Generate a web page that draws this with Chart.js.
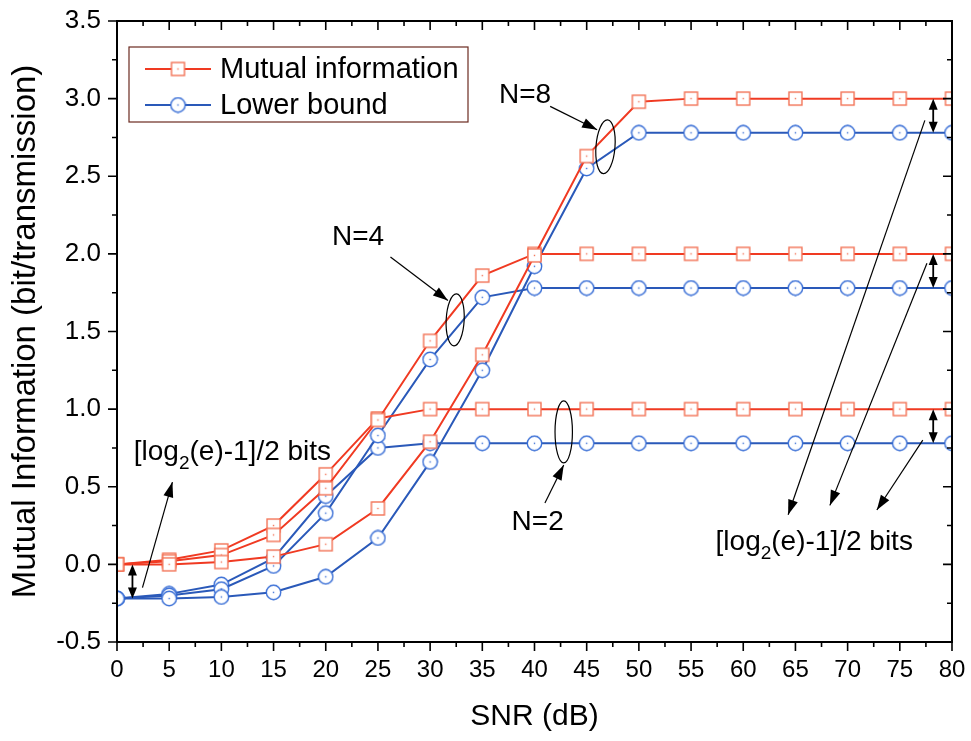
<!DOCTYPE html>
<html>
<head>
<meta charset="utf-8">
<script src="https://cdn.jsdelivr.net/npm/chart.js@4.4.1/dist/chart.umd.min.js"></script>
<style>
html, body { margin: 0; padding: 0; background: #fff; }
</style>
</head>
<body>
<canvas id="mi-chart" width="971" height="741"></canvas>
<script>
// SNR grid (dB)
const snr = [0, 5, 10, 15, 20, 25, 30, 35, 40, 45, 50, 55, 60, 65, 70, 75, 80];

// Mutual information (bit/transmission)
const miN2 = [0.00, 0.03, 0.09, 0.25, 0.58, 0.94, 1.00, 1.00, 1.00, 1.00, 1.00, 1.00, 1.00, 1.00, 1.00, 1.00, 1.00];
const miN4 = [0.00, 0.02, 0.06, 0.19, 0.49, 0.93, 1.44, 1.86, 2.00, 2.00, 2.00, 2.00, 2.00, 2.00, 2.00, 2.00, 2.00];
const miN8 = [0.00, 0.00, 0.015, 0.05, 0.13, 0.36, 0.79, 1.35, 1.99, 2.63, 2.98, 3.00, 3.00, 3.00, 3.00, 3.00, 3.00];

// Lower bound
const lbN2 = [-0.22, -0.19, -0.13, 0.04, 0.44, 0.75, 0.78, 0.78, 0.78, 0.78, 0.78, 0.78, 0.78, 0.78, 0.78, 0.78, 0.78];
const lbN4 = [-0.22, -0.20, -0.16, -0.01, 0.33, 0.83, 1.32, 1.72, 1.78, 1.78, 1.78, 1.78, 1.78, 1.78, 1.78, 1.78, 1.78];
const lbN8 = [-0.22, -0.22, -0.21, -0.18, -0.08, 0.17, 0.66, 1.25, 1.92, 2.55, 2.78, 2.78, 2.78, 2.78, 2.78, 2.78, 2.78];

// axis ticks
const xTicks = [0, 5, 10, 15, 20, 25, 30, 35, 40, 45, 50, 55, 60, 65, 70, 75, 80];
const yTicks = [-0.5, 0.0, 0.5, 1.0, 1.5, 2.0, 2.5, 3.0, 3.5];

const legendLabels = ['Mutual information', 'Lower bound'];

const RED = '#f03a22';
const RED_MK = '#f37356';
const BLUE = '#2a59b9';
const BLUE_MK = '#3a6fd6';

// marker images: hollow square / circle with a small centre dot
function makeMarker(kind, color) {
    const c = document.createElement('canvas');
    c.width = 17; c.height = 17;
    const g = c.getContext('2d');
    g.fillStyle = '#fff';
    g.strokeStyle = color;
    g.lineWidth = 1.4;
    if (kind === 'square') {
        g.fillRect(2, 2, 13, 13);
        g.strokeRect(2, 2, 13, 13);
    } else {
        g.beginPath();
        g.arc(8.5, 8.5, 7.2, 0, Math.PI * 2);
        g.fill();
        g.stroke();
    }
    g.fillStyle = color;
    g.fillRect(7.8, 7.8, 1.4, 1.4);
    return c;
}
const squareMk = makeMarker('square', RED_MK);
const circleMk = makeMarker('circle', BLUE_MK);

function toPoints(vals) {
    return vals.map((v, i) => ({ x: snr[i], y: v }));
}

function series(vals, color, marker) {
    return {
        data: toPoints(vals),
        borderColor: color,
        backgroundColor: color,
        borderWidth: 2,
        pointStyle: marker,
        pointRadius: 8,
        pointHoverRadius: 8,
        tension: 0,
        clip: 1
    };
}

function arrowHead(ctx, x0, y0, x1, y1, len, half) {
    const ang = Math.atan2(y1 - y0, x1 - x0);
    ctx.beginPath();
    ctx.moveTo(x1, y1);
    ctx.lineTo(x1 - len * Math.cos(ang) + half * Math.sin(ang), y1 - len * Math.sin(ang) - half * Math.cos(ang));
    ctx.lineTo(x1 - len * Math.cos(ang) - half * Math.sin(ang), y1 - len * Math.sin(ang) + half * Math.cos(ang));
    ctx.closePath();
    ctx.fill();
}

function arrow(ctx, x0, y0, x1, y1) {
    ctx.beginPath();
    ctx.moveTo(x0, y0);
    ctx.lineTo(x1, y1);
    ctx.stroke();
    arrowHead(ctx, x0, y0, x1, y1, 15, 5);
}

function dblArrow(ctx, x, y0, y1) {
    ctx.beginPath();
    ctx.moveTo(x, y0 + 4);
    ctx.lineTo(x, y1 - 4);
    ctx.stroke();
    arrowHead(ctx, x, y1, x, y0, 11, 4.5);
    arrowHead(ctx, x, y0, x, y1, 11, 4.5);
}

function logLabel(ctx, cx, cy) {
    const big = '28px "Liberation Sans", Arial, sans-serif';
    const small = '19px "Liberation Sans", Arial, sans-serif';
    const parts = ['[log', '2', '(e)-1]/2 bits'];
    ctx.font = big;
    const w0 = ctx.measureText(parts[0]).width;
    const w2 = ctx.measureText(parts[2]).width;
    ctx.font = small;
    const w1 = ctx.measureText(parts[1]).width;
    let x = cx - (w0 + w1 + w2) / 2;
    ctx.textAlign = 'left';
    ctx.textBaseline = 'middle';
    ctx.font = big;
    ctx.fillText(parts[0], x, cy);
    x += w0;
    ctx.font = small;
    ctx.fillText(parts[1], x, cy + 11);
    x += w1;
    ctx.font = big;
    ctx.fillText(parts[2], x, cy);
}

const framePlugin = {
    id: 'frame',
    afterDraw(chart) {
        const { ctx, chartArea: a, scales: { x, y } } = chart;
        const X = v => x.getPixelForValue(v);
        const Y = v => y.getPixelForValue(v);
        ctx.save();
        ctx.strokeStyle = '#000';
        ctx.fillStyle = '#000';
        ctx.lineWidth = 2;
        ctx.strokeRect(a.left, a.top, a.right - a.left, a.bottom - a.top);

        // major + minor ticks on all four sides
        ctx.lineWidth = 1.6;
        ctx.beginPath();
        for (let v = 0; v <= 80; v += 2.5) {
            const px = X(v);
            const len = v % 5 === 0 ? 9 : 5;
            ctx.moveTo(px, a.bottom); ctx.lineTo(px, a.bottom + len);
            ctx.moveTo(px, a.top); ctx.lineTo(px, a.top + len);
        }
        for (let i = 0; i <= 16; i++) {
            const v = -0.5 + i * 0.25;
            const py = Y(v);
            const len = i % 2 === 0 ? 9 : 5;
            ctx.moveTo(a.left, py); ctx.lineTo(a.left - len, py);
            ctx.moveTo(a.right, py); ctx.lineTo(a.right - len, py);
        }
        ctx.stroke();

        // legend box
        const lx = a.left + 12, ly = a.top + 26;
        ctx.strokeStyle = '#6b2a20';
        ctx.lineWidth = 1.2;
        ctx.strokeRect(lx, ly, 339, 75);
        const rows = [[RED, squareMk], [BLUE, circleMk]];
        ctx.font = '29px "Liberation Sans", Arial, sans-serif';
        ctx.textAlign = 'left';
        ctx.textBaseline = 'middle';
        rows.forEach((r, i) => {
            const ry = ly + 22 + i * 36;
            ctx.strokeStyle = r[0];
            ctx.lineWidth = 2;
            ctx.beginPath();
            ctx.moveTo(lx + 16, ry); ctx.lineTo(lx + 82, ry);
            ctx.stroke();
            ctx.drawImage(r[1], lx + 49 - 8.5, ry - 8.5);
            ctx.fillStyle = '#000';
            ctx.fillText(legendLabels[i], lx + 91, ry + 1);
        });

        // annotations
        ctx.strokeStyle = '#000';
        ctx.fillStyle = '#000';
        ctx.lineWidth = 1.2;
        ctx.font = '28px "Liberation Sans", Arial, sans-serif';
        ctx.textAlign = 'center';
        ctx.textBaseline = 'middle';
        ctx.fillText('N=8', X(39.1), Y(3.02));
        ctx.fillText('N=4', X(23.1), Y(2.11));
        ctx.fillText('N=2', X(40.3), Y(0.27));

        arrow(ctx, X(41.5), Y(2.95), X(46.0), Y(2.80));
        arrow(ctx, X(26.2), Y(1.98), X(31.7), Y(1.70));
        arrow(ctx, X(41.0), Y(0.395), X(42.8), Y(0.64));

        const ell = [[46.8, 2.69, 9.5, 27, 0.08], [32.4, 1.575, 9, 26, 0.05], [42.8, 0.853, 8.7, 31, 0]];
        ell.forEach(e => {
            ctx.beginPath();
            ctx.ellipse(X(e[0]), Y(e[1]), e[2], e[3], e[4], 0, Math.PI * 2);
            ctx.stroke();
        });

        // gap annotations
        logLabel(ctx, X(11.06), Y(0.72));
        logLabel(ctx, X(66.8), Y(0.14));
        arrow(ctx, X(2.44), Y(-0.15), X(5.31), Y(0.53));
        arrow(ctx, X(77.4), Y(2.86), X(64.3), Y(0.32));
        arrow(ctx, X(77.6), Y(1.94), X(68.3), Y(0.38));
        arrow(ctx, X(77.2), Y(0.80), X(72.8), Y(0.35));

        ctx.lineWidth = 1.8;
        dblArrow(ctx, X(1.48), Y(0.0), Y(-0.22));
        dblArrow(ctx, X(78.2), Y(3.0), Y(2.78));
        dblArrow(ctx, X(78.2), Y(2.0), Y(1.78));
        dblArrow(ctx, X(78.2), Y(1.0), Y(0.78));
        ctx.restore();
    }
};

const ctxMain = document.getElementById('mi-chart').getContext('2d');
const miChart = new Chart(ctxMain, {
    type: 'line',
    data: {
        datasets: [
            series(miN8, RED, squareMk),
            series(miN4, RED, squareMk),
            series(miN2, RED, squareMk),
            series(lbN8, BLUE, circleMk),
            series(lbN4, BLUE, circleMk),
            series(lbN2, BLUE, circleMk)
        ]
    },
    options: {
        responsive: false,
        animation: false,
        layout: { padding: { top: 21, right: 19, left: 0, bottom: 0 } },
        plugins: {
            legend: { display: false },
            tooltip: { enabled: false }
        },
        scales: {
            x: {
                type: 'linear',
                min: 0,
                max: 80,
                afterBuildTicks: s => { s.ticks = xTicks.map(v => ({ value: v })); },
                afterFit: s => { s.height = 99; s.paddingLeft = 0; s.paddingRight = 0; },
                grid: { display: false, drawTicks: false },
                border: { display: false },
                ticks: {
                    color: '#000',
                    padding: 14,
                    maxRotation: 0,
                    font: { family: '"Liberation Sans Narrow", "Liberation Sans", Arial, sans-serif', size: 24 }
                },
                title: {
                    display: true,
                    text: 'SNR (dB)',
                    color: '#000',
                    padding: { top: 0, bottom: 6 },
                    font: { family: '"Liberation Sans", Arial, sans-serif', size: 30 }
                }
            },
            y: {
                min: -0.5,
                max: 3.5,
                afterBuildTicks: s => { s.ticks = yTicks.map(v => ({ value: v })); },
                afterFit: s => { s.width = 117; s.paddingTop = 0; s.paddingBottom = 0; },
                grid: { display: false, drawTicks: false },
                border: { display: false },
                ticks: {
                    color: '#000',
                    padding: 16,
                    callback: v => v.toFixed(1),
                    font: { family: '"Liberation Sans", Arial, sans-serif', size: 26 }
                },
                title: {
                    display: true,
                    text: 'Mutual Information (bit/transmission)',
                    color: '#000',
                    padding: { top: 6, bottom: 0 },
                    font: { family: '"Liberation Sans", Arial, sans-serif', size: 33 }
                }
            }
        }
    },
    plugins: [framePlugin]
});
</script>
</body>
</html>
